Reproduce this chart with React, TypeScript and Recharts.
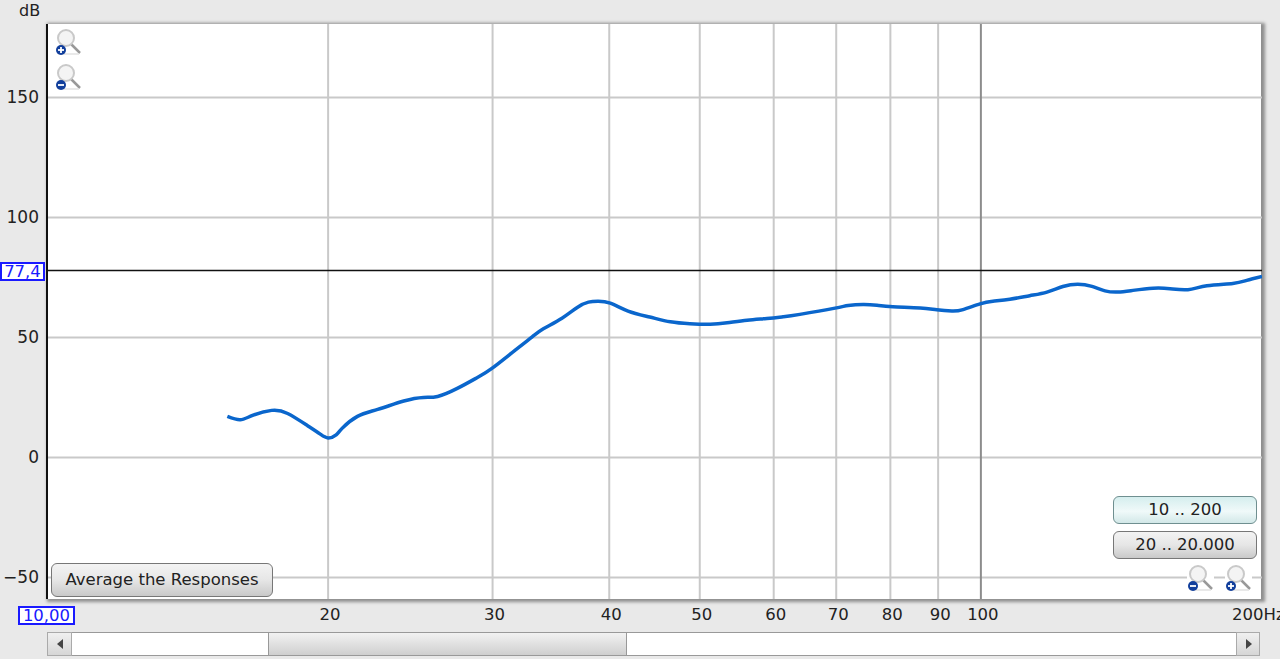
import { ComposedChart, Line, XAxis, YAxis, CartesianGrid, ReferenceLine } from 'recharts';

const frequencies = [
  15.6, 16.1, 16.6, 17.4, 18.1, 19, 19.6, 20, 20.4, 20.7, 21.5, 22.6, 24.1, 25.3, 26.2, 27.5, 28.9, 29.95,
  31.7, 33.1, 34, 35.6, 37, 38, 38.9, 40.1, 41.9, 44.2, 46.5, 48.8, 51.3, 53.5, 56.2, 59, 61.4, 64,
  69.8, 72.1, 74.8, 77.4, 80.5, 86.1, 89.7, 93.1, 95.7, 99.8, 103, 107.4, 112.8, 117.7, 122.4, 127, 131.5,
  135.8, 140.2, 145.5, 152.9, 159.4, 166.6, 174.6, 186.1, 192.6, 200,
];
const levels = [
  17.1, 15.7, 17.5, 19.6, 18.3, 13.3, 9.8, 8.1, 9.4, 12.1, 17.1, 20, 23.5, 25, 25.4, 28.75, 33.3, 37.1,
  44.6, 50.3, 53.6, 58, 62.6, 64.7, 65.1, 64.3, 61, 58.5, 56.5, 55.7, 55.5, 56.1, 57.2, 57.9, 58.6, 59.6,
  62.2, 63.3, 63.75, 63.4, 62.8, 62.3, 61.5, 61, 61.6, 64, 65.1, 65.9, 67.4, 68.9, 71.2, 72.2, 71.25,
  69.4, 68.9, 69.6, 70.5, 70.3, 69.9, 71.5, 72.5, 73.75, 75.4,
];
const xTicks = [20, 30, 40, 50, 60, 70, 80, 90, 100, 200];
const yTicks = [-50, 0, 50, 100, 150];
const cursorLevel = 77.9;

const data = frequencies.map((hz, i) => ({ hz, db: levels[i] }));
const font = '"DejaVu Sans", sans-serif';

function XTick({ x, y, payload }: any) {
  const last = payload.value === 200;
  return (
    <text x={last ? 1232 : x + 2} y={y + 13} textAnchor={last ? 'start' : 'middle'} fontSize={16.5} fontFamily={font} fill="#222">
      {last ? '200Hz' : payload.value}
    </text>
  );
}

function Zoomer({ left, top, plus }: { left: number; top: number; plus: boolean }) {
  return (
    <svg width={27} height={27} style={{ position: 'absolute', left, top, background: '#fff' }}>
      <line x1={15} y1={14} x2={25} y2={24} stroke="#999" strokeWidth={2.5} />
      <line x1={3} y1={25} x2={24} y2={25} stroke="#e2e2e2" strokeWidth={1.5} />
      <circle cx={11} cy={9} r={8} fill="#f4f4f4" stroke="#c9c9c9" strokeWidth={2} />
      <circle cx={6} cy={21} r={5} fill="#123f9c" />
      <line x1={3} y1={21} x2={9} y2={21} stroke="#fff" strokeWidth={1.8} />
      {plus && <line x1={6} y1={18} x2={6} y2={24} stroke="#fff" strokeWidth={1.8} />}
    </svg>
  );
}

function Btn({ left, top, width, height, label, tint }: any) {
  return (
    <div
      style={{
        position: 'absolute',
        left,
        top,
        width,
        height,
        boxSizing: 'border-box',
        border: tint ? '1.5px solid #6f8f90' : '1.5px solid #777',
        borderRadius: 6,
        background: tint ? 'linear-gradient(#d5eeee, #f0f9f9 55%, #d2e8e8)' : 'linear-gradient(#f3f3f3, #e6e6e6 50%, #c9c9c9)',
        fontFamily: font,
        fontSize: 16.5,
        color: '#222',
        textAlign: 'center',
        lineHeight: `${height - 3}px`,
      }}
    >
      {label}
    </div>
  );
}

function BlueBox({ left, top, width, label }: any) {
  return (
    <div
      style={{
        position: 'absolute',
        left,
        top,
        width,
        height: 19,
        boxSizing: 'border-box',
        border: '2px solid #1a1aff',
        background: '#fff',
        color: '#1a1aff',
        fontFamily: font,
        fontSize: 16.5,
        lineHeight: '16px',
        textAlign: 'center',
      }}
    >
      {label}
    </div>
  );
}

export default function App() {
  return (
    <div style={{ position: 'fixed', left: 0, top: 0, width: 1280, height: 659, background: '#e9e9e9', overflow: 'hidden' }}>
      {/* plot panel sits behind the transparent chart */}
      <div
        style={{
          position: 'absolute',
          left: 47,
          top: 24,
          width: 1214,
          height: 575,
          background: '#fff',
          boxShadow: '2px 1px 3px 2px #8f8f8f',
        }}
      />
      <div style={{ position: 'absolute', left: 0, top: 0 }}>
        <ComposedChart width={1280} height={659} data={data} margin={{ top: 24, right: 18, bottom: 0, left: 0 }}>
          <CartesianGrid
            stroke="#c9c9c9"
            strokeWidth={2}
            verticalValues={[20, 30, 40, 50, 60, 70, 80, 90]}
            horizontalValues={yTicks}
          />
          <XAxis
            dataKey="hz"
            type="number"
            scale="log"
            domain={[10, 200]}
            ticks={xTicks}
            interval={0}
            height={60}
            tick={<XTick />}
            tickLine={false}
            axisLine={false}
            allowDataOverflow
          />
          <YAxis
            type="number"
            domain={[-59, 180.6]}
            ticks={yTicks}
            interval={0}
            width={47}
            tick={{ fontSize: 17, fontFamily: font, fill: '#222' }}
            tickFormatter={(v: number) => (v < 0 ? `\u2212${-v}` : String(v))}
            tickLine={false}
            tickMargin={2}
            axisLine={{ stroke: '#111', strokeWidth: 2 }}
            allowDataOverflow
          />
          <ReferenceLine x={100} stroke="#8c8c8c" strokeWidth={2} />
          <ReferenceLine y={cursorLevel} stroke="#111" strokeWidth={1.5} />
          <Line dataKey="db" type="natural" stroke="#0a66cc" strokeWidth={3.5} dot={false} isAnimationActive={false} />
        </ComposedChart>
      </div>

      <div style={{ position: 'absolute', left: 19, top: 1, fontFamily: font, fontSize: 16, color: '#222' }}>dB</div>
      <BlueBox left={0} top={262} width={45} label="77,4" />
      <BlueBox left={18} top={606} width={57} label="10,00" />

      <Zoomer left={55} top={29} plus />
      <Zoomer left={55} top={64} plus={false} />
      <Zoomer left={1187} top={565} plus={false} />
      <Zoomer left={1225} top={565} plus />

      <Btn left={51} top={563} width={222} height={34} label="Average the Responses" />
      <Btn left={1113} top={496} width={144} height={28} label="10 .. 200" tint />
      <Btn left={1113} top={531} width={144} height={28} label="20 .. 20.000" />

      {/* scrollbar */}
      <div style={{ position: 'absolute', left: 47, top: 632, width: 1213, height: 24, background: '#fff', boxSizing: 'border-box', borderTop: '1.5px solid #999', borderBottom: '1.5px solid #999' }} />
      <div style={{ position: 'absolute', left: 268, top: 632, width: 359, height: 24, background: 'linear-gradient(#f2f2f2, #cfcfcf)', boxSizing: 'border-box', border: '1px solid #999' }} />
      <div style={{ position: 'absolute', left: 47, top: 632, width: 25, height: 24, background: 'linear-gradient(#f0f0f0, #d6d6d6)', boxSizing: 'border-box', border: '1px solid #aaa' }} />
      <div style={{ position: 'absolute', left: 1236, top: 632, width: 24, height: 24, background: 'linear-gradient(#f0f0f0, #d6d6d6)', boxSizing: 'border-box', border: '1px solid #aaa' }} />
      <svg width={1280} height={24} style={{ position: 'absolute', left: 0, top: 632 }}>
        <polygon points="57,12 63,7 63,17" fill="#444" />
        <polygon points="1252,12 1246,7 1246,17" fill="#444" />
      </svg>
    </div>
  );
}
